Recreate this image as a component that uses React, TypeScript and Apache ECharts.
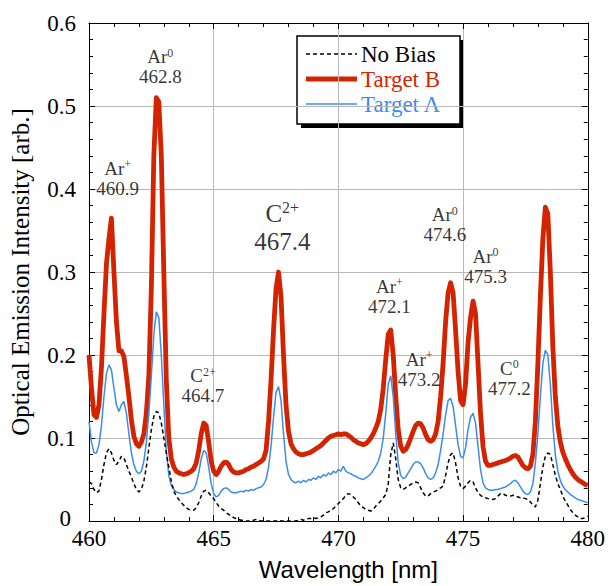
import { useEffect, useRef } from "react";
import * as echarts from "echarts";

// Wavelength sampling grid of the spectra (nm)
const LAMBDA_START = 460;
const LAMBDA_STEP = 0.1;

// Target B (red, thick)
const targetB = [
  0.200, 0.160, 0.128, 0.125, 0.140, 0.185, 0.250, 0.310, 0.340, 0.365,
  0.300, 0.240, 0.205, 0.205, 0.198, 0.175, 0.150, 0.122, 0.102, 0.093,
  0.090, 0.095, 0.105, 0.130, 0.175, 0.280, 0.440, 0.510, 0.505, 0.440,
  0.300, 0.170, 0.100, 0.075, 0.065, 0.060, 0.058, 0.057, 0.056, 0.057,
  0.058, 0.060, 0.063, 0.070, 0.085, 0.105, 0.118, 0.115, 0.095, 0.072,
  0.060, 0.056, 0.060, 0.066, 0.070, 0.071, 0.068, 0.062, 0.059, 0.058,
  0.058, 0.059, 0.060, 0.062, 0.063, 0.065, 0.066, 0.068, 0.070, 0.072,
  0.075, 0.085, 0.120, 0.170, 0.230, 0.280, 0.300, 0.270, 0.200, 0.140,
  0.108, 0.093, 0.087, 0.083, 0.081, 0.080, 0.080, 0.081, 0.082, 0.083,
  0.085, 0.087, 0.089, 0.091, 0.094, 0.097, 0.100, 0.102, 0.103, 0.104,
  0.105, 0.104, 0.105, 0.105, 0.103, 0.101, 0.098, 0.096, 0.094, 0.093,
  0.092, 0.093, 0.096, 0.100, 0.105, 0.112, 0.120, 0.135, 0.160, 0.195,
  0.225, 0.230, 0.200, 0.150, 0.110, 0.090, 0.084, 0.086, 0.092, 0.100,
  0.108, 0.115, 0.118, 0.117, 0.112, 0.104, 0.098, 0.096, 0.098, 0.105,
  0.120, 0.150, 0.190, 0.240, 0.275, 0.287, 0.275, 0.230, 0.180, 0.145,
  0.140, 0.165, 0.215, 0.245, 0.265, 0.250, 0.190, 0.130, 0.090, 0.072,
  0.067, 0.067, 0.068, 0.069, 0.070, 0.071, 0.072, 0.073, 0.074, 0.076,
  0.078, 0.079, 0.077, 0.072, 0.067, 0.064, 0.063, 0.066, 0.080, 0.120,
  0.190, 0.270, 0.340, 0.378, 0.370, 0.300, 0.210, 0.150, 0.115, 0.095,
  0.083, 0.075, 0.068, 0.062, 0.057, 0.053, 0.050, 0.048, 0.046, 0.044,
  0.043,
];

// Target A (blue, thin)
const targetA = [
  0.120, 0.095, 0.082, 0.082, 0.092, 0.115, 0.150, 0.178, 0.188, 0.182,
  0.160, 0.140, 0.132, 0.140, 0.144, 0.130, 0.105, 0.082, 0.068, 0.060,
  0.057, 0.060, 0.072, 0.095, 0.130, 0.175, 0.225, 0.252, 0.245, 0.200,
  0.140, 0.085, 0.055, 0.043, 0.038, 0.035, 0.034, 0.033, 0.033, 0.034,
  0.035, 0.036, 0.038, 0.045, 0.058, 0.075, 0.085, 0.082, 0.065, 0.045,
  0.033, 0.029, 0.031, 0.036, 0.039, 0.040, 0.038, 0.035, 0.034, 0.034,
  0.035, 0.036, 0.035, 0.037, 0.036, 0.038, 0.037, 0.039, 0.040, 0.041,
  0.044, 0.050, 0.065, 0.090, 0.125, 0.155, 0.162, 0.145, 0.105, 0.072,
  0.056, 0.050, 0.047, 0.046, 0.048, 0.046, 0.049, 0.047, 0.050, 0.049,
  0.052, 0.050, 0.054, 0.052, 0.056, 0.054, 0.058, 0.056, 0.060, 0.058,
  0.062, 0.060, 0.066, 0.060, 0.058, 0.057, 0.055, 0.054, 0.052, 0.051,
  0.050, 0.052, 0.054, 0.057, 0.061, 0.066, 0.072, 0.082, 0.100, 0.130,
  0.165, 0.175, 0.150, 0.105, 0.070, 0.055, 0.051, 0.053, 0.058, 0.063,
  0.068, 0.071, 0.071, 0.069, 0.064, 0.057, 0.052, 0.050, 0.052, 0.058,
  0.068, 0.085, 0.105, 0.128, 0.145, 0.148, 0.138, 0.115, 0.092, 0.078,
  0.076, 0.088, 0.110, 0.125, 0.130, 0.118, 0.090, 0.062, 0.046, 0.040,
  0.038, 0.037, 0.037, 0.038, 0.038, 0.039, 0.040, 0.041, 0.043, 0.045,
  0.048, 0.049, 0.046, 0.041, 0.036, 0.033, 0.032, 0.035, 0.045, 0.070,
  0.105, 0.150, 0.190, 0.206, 0.200, 0.165, 0.115, 0.080, 0.060, 0.049,
  0.042, 0.038, 0.035, 0.032, 0.030, 0.028, 0.026, 0.025, 0.024, 0.023,
  0.022,
];

// No Bias (black, dashed)
const noBias = [
  0.047, 0.045, 0.038, 0.034, 0.036, 0.050, 0.068, 0.082, 0.087, 0.082,
  0.073, 0.068, 0.072, 0.078, 0.076, 0.068, 0.060, 0.053, 0.045, 0.038,
  0.035, 0.038, 0.048, 0.065, 0.088, 0.110, 0.126, 0.132, 0.130, 0.118,
  0.100, 0.082, 0.065, 0.048, 0.036, 0.030, 0.026, 0.022, 0.019, 0.016,
  0.014, 0.013, 0.013, 0.016, 0.022, 0.030, 0.036, 0.037, 0.034, 0.030,
  0.027, 0.022, 0.018, 0.015, 0.013, 0.010, 0.008, 0.006, 0.004, 0.003,
  0.002, 0.001, 0.001, 0.000, 0.000, 0.000, 0.001, 0.002, 0.001, 0.000,
  0.000, 0.000, 0.000, 0.000, 0.000, 0.000, 0.001, 0.000, 0.000, 0.000,
  0.000, 0.000, 0.000, 0.000, 0.001, 0.002, 0.001, 0.002, 0.003, 0.003,
  0.004, 0.003, 0.004, 0.005, 0.007, 0.010, 0.011, 0.013, 0.015, 0.018,
  0.021, 0.024, 0.027, 0.031, 0.033, 0.032, 0.029, 0.026, 0.022, 0.018,
  0.016, 0.014, 0.013, 0.012, 0.014, 0.018, 0.021, 0.024, 0.028, 0.032,
  0.045, 0.080, 0.094, 0.075, 0.050, 0.040, 0.038, 0.040, 0.042, 0.044,
  0.046, 0.047, 0.046, 0.040, 0.034, 0.030, 0.030, 0.033, 0.035, 0.036,
  0.038, 0.040, 0.042, 0.055, 0.070, 0.080, 0.082, 0.070, 0.052, 0.042,
  0.039, 0.042, 0.046, 0.049, 0.047, 0.040, 0.034, 0.031, 0.029, 0.028,
  0.027, 0.026, 0.026, 0.027, 0.030, 0.033, 0.033, 0.031, 0.030, 0.030,
  0.031, 0.030, 0.029, 0.028, 0.028, 0.027, 0.026, 0.023, 0.019, 0.017,
  0.025, 0.045, 0.065, 0.078, 0.082, 0.080, 0.068, 0.055, 0.045, 0.038,
  0.030, 0.024, 0.019, 0.014, 0.010, 0.007, 0.005, 0.003, 0.003, 0.004,
  0.006,
];

// Line annotations: species, charge state (superscript), wavelength label, anchor in data coords
const annSpecies = ["Ar", "Ar", "C", "C", "Ar", "Ar", "Ar", "Ar", "C"];
const annCharge = ["+", "0", "2+", "2+", "+", "+", "0", "0", "0"];
const annLabel = ["460.9", "462.8", "467.4", "464.7", "472.1", "473.2", "474.6", "475.3", "477.2"];
const annX = [461.15, 462.86, 467.75, 464.57, 472.05, 473.24, 474.27, 475.9, 476.86];
const annY = [0.413, 0.5475, 0.354, 0.163, 0.271, 0.183, 0.357, 0.307, 0.172];
const annBig = [false, false, true, false, false, false, false, false, false];

const legendNames = ["No Bias", "Target B", "Target A"];

const RED = "#d42300";
const BLUE = "#3a8cf0";
const SERIF = "Liberation Serif, Times New Roman, serif";
const SANS = "Liberation Sans, Arial, sans-serif";

const toPairs = (vals: number[]) =>
  vals.map((v, i) => [Math.round((LAMBDA_START + i * LAMBDA_STEP) * 10) / 10, v]);

export default function App() {
  const ref = useRef<HTMLDivElement>(null);

  useEffect(() => {
    if (!ref.current) return;
    const chart = echarts.init(ref.current, null, { renderer: "svg" });

    const axisCommon = {
      type: "value" as const,
      axisLine: { show: true, onZero: false, lineStyle: { color: "#000", width: 1 } },
      axisTick: { show: true, inside: true, length: 6, lineStyle: { color: "#000" } },
      minorTick: { show: true, splitNumber: 5, length: 4, lineStyle: { color: "#000" } },
    };

    const annData = annSpecies.map((sp, i) => {
      const big = annBig[i];
      const fs = big ? 25 : 19;
      const lh = big ? 28 : 20;
      return {
        value: [annX[i], annY[i]],
        label: {
          show: true,
          position: "inside",
          align: "center",
          verticalAlign: "middle",
          formatter: `{e|${sp}}{s|${annCharge[i]}}\n{n|${annLabel[i]}}`,
          rich: {
            e: { fontFamily: SERIF, fontSize: fs, lineHeight: lh, color: "#000" },
            s: {
              fontFamily: SERIF,
              fontSize: big ? 16 : 12,
              lineHeight: big ? 14 : 11,
              verticalAlign: "top",
              color: "#000",
            },
            n: { fontFamily: SERIF, fontSize: fs, lineHeight: lh, color: "#000" },
          },
        },
      };
    });

    const lx0 = 306;
    const lx1 = 357;
    const rowY = [54, 79, 104];

    chart.setOption({
      animation: false,
      backgroundColor: "#fff",
      grid: { left: 86, top: 23, width: 503, height: 503, containLabel: false },
      xAxis: [
        {
          ...axisCommon,
          min: 460,
          max: 480,
          interval: 5,
          position: "bottom",
          splitLine: { show: true, lineStyle: { color: "#b8b8b8", width: 1 } },
          axisLabel: { fontFamily: SERIF, fontSize: 23, lineHeight: 20, color: "#000", margin: 7 },
          name: "Wavelength [nm]",
          nameLocation: "middle",
          nameGap: 36,
          nameTextStyle: { fontFamily: SANS, fontSize: 24, color: "#000", padding: [0, 0, 0, 20] },
        },
        {
          ...axisCommon,
          min: 460,
          max: 480,
          interval: 5,
          position: "top",
          splitLine: { show: false },
          axisLabel: { show: false },
        },
      ],
      yAxis: [
        {
          ...axisCommon,
          min: 0,
          max: 0.6,
          interval: 0.1,
          position: "left",
          splitLine: { show: true, lineStyle: { color: "#b8b8b8", width: 1 } },
          axisLabel: {
            fontFamily: SERIF,
            fontSize: 23,
            lineHeight: 20,
            color: "#000",
            margin: 13,
            formatter: (v: number) => (v === 0 ? "{z|0}" : v.toFixed(1)),
            rich: {
              z: {
                fontFamily: SERIF,
                fontSize: 23,
                lineHeight: 20,
                color: "#000",
                padding: [0, 5, 6, 0],
              },
            },
          },
          name: "Optical Emission Intensity [arb.]",
          nameLocation: "middle",
          nameGap: 56,
          nameTextStyle: { fontFamily: SERIF, fontSize: 25, color: "#000" },
        },
        {
          ...axisCommon,
          min: 0,
          max: 0.6,
          interval: 0.1,
          position: "right",
          splitLine: { show: false },
          axisLabel: { show: false },
        },
      ],
      series: [
        {
          name: "Target B",
          type: "line",
          data: toPairs(targetB),
          showSymbol: false,
          symbol: "none",
          lineStyle: { color: RED, width: 4.8, join: "round" },
          z: 2,
        },
        {
          name: "Target A",
          type: "line",
          data: toPairs(targetA),
          showSymbol: false,
          symbol: "none",
          lineStyle: { color: BLUE, width: 1.5 },
          z: 3,
        },
        {
          name: "No Bias",
          type: "line",
          data: toPairs(noBias),
          showSymbol: false,
          symbol: "none",
          lineStyle: { color: "#000", width: 1.5, type: [4, 3] },
          z: 4,
        },
        {
          name: "labels",
          type: "scatter",
          data: annData,
          symbolSize: 0,
          silent: true,
          z: 5,
        },
      ],
      graphic: [
        {
          type: "group",
          z: 100,
          children: [
            { type: "rect", shape: { x: 301, y: 40, width: 163, height: 88 }, style: { fill: "#000" } },
            {
              type: "rect",
              shape: { x: 297, y: 36, width: 163, height: 88 },
              style: { fill: "#fff", stroke: "#000", lineWidth: 1.5 },
            },
            {
              type: "line",
              shape: { x1: lx0, y1: rowY[0], x2: lx1, y2: rowY[0] },
              style: { stroke: "#000", lineWidth: 1.5, lineDash: [4, 3] },
            },
            {
              type: "line",
              shape: { x1: lx0, y1: rowY[1], x2: lx1, y2: rowY[1] },
              style: { stroke: RED, lineWidth: 4.8 },
            },
            {
              type: "line",
              shape: { x1: lx0, y1: rowY[2], x2: lx1, y2: rowY[2] },
              style: { stroke: BLUE, lineWidth: 1.5 },
            },
            ...legendNames.map((n, i) => ({
              type: "text",
              x: 361,
              y: rowY[i],
              style: {
                text: n,
                fontFamily: SERIF,
                fontSize: 23,
                lineHeight: 22,
                fill: i === 0 ? "#000" : i === 1 ? RED : BLUE,
                verticalAlign: "middle",
                align: "left",
              },
            })),
          ],
        },
      ],
    });

    return () => chart.dispose();
  }, []);

  return (
    <div
      ref={ref}
      style={{ position: "fixed", left: 0, top: 0, width: 608, height: 586, background: "#fff" }}
    />
  );
}
